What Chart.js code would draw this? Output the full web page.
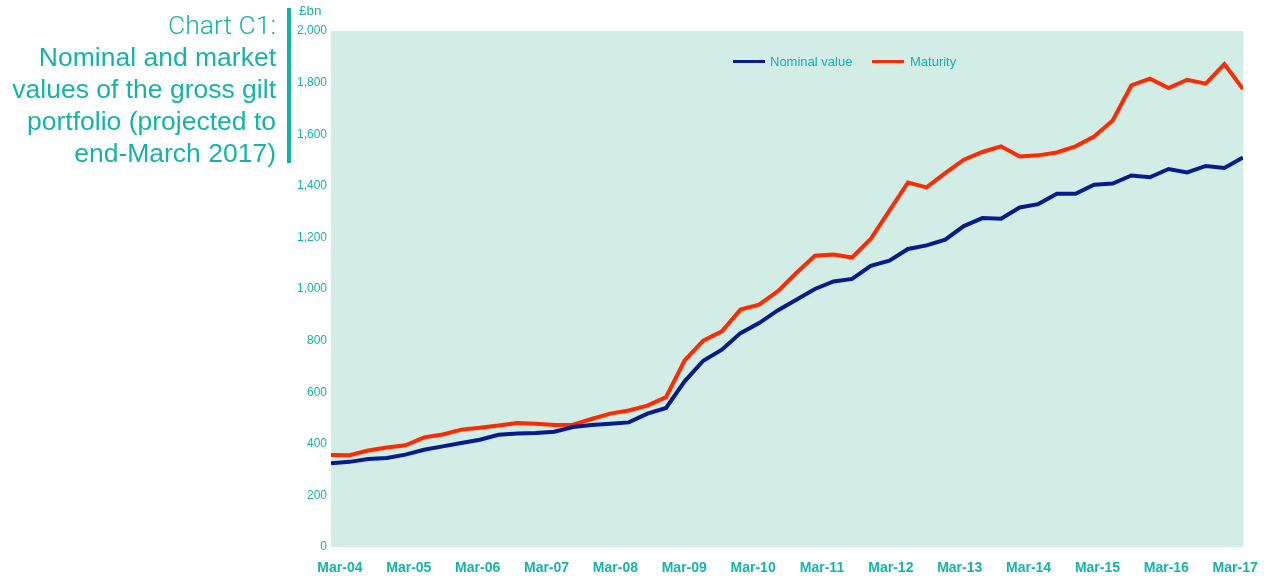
<!DOCTYPE html>
<html>
<head>
<meta charset="utf-8">
<script src="https://cdn.jsdelivr.net/npm/chart.js@4/dist/chart.umd.min.js"></script>
<style>
  body { margin: 0; background: #fff; font-family: "Liberation Sans", Arial, sans-serif; }
  #wrap { position: relative; width: 1264px; height: 578px; }
  #title {
    position: absolute; right: 988px; top: 9px; text-align: right;
    color: #16b3a8; font-size: 26.5px; line-height: 32px; white-space: nowrap;
  }
  #title .first { font-family: Roboto, "Liberation Sans", sans-serif; font-weight: 300; }
  #bar { position: absolute; left: 287px; top: 8px; width: 4px; height: 155px; background: #12b3a6; }
  #unit { position: absolute; left: 299px; top: 3px; color: #16b3a8; font-size: 13.5px; }
  .lg { position: absolute; top: 54px; color: #16b3a8; font-size: 13px; }
  .sw { position: absolute; top: 60px; width: 32px; height: 3px; }
  canvas { position: absolute; left: 0; top: 0; }
</style>
</head>
<body>
<div id="wrap">
  <canvas id="gilts" width="1264" height="578"></canvas>
  <div id="title"><span class="first">Chart C1:</span><br>Nominal and market<br>values of the gross gilt<br>portfolio (projected to<br>end-March 2017)</div>
  <div id="bar"></div>
  <div id="unit">£bn</div>
  <div class="sw" style="left:733px;background:#071a8f"></div>
  <div class="lg" style="left:770px">Nominal value</div>
  <div class="sw" style="left:872px;background:#ff2a00"></div>
  <div class="lg" style="left:910px">Maturity</div>
</div>
<script>
// quarterly points, Mar-04 .. end-March 2017 (projected)
var nominal = [
    325, 330, 341, 345, 358, 377, 390, 403, 416, 435,
    440, 442, 447, 465, 473, 478, 483, 517, 539, 642,
    722, 765, 829, 868, 917, 958, 1000, 1029, 1039, 1090,
    1110, 1155, 1169, 1191, 1244, 1275, 1272, 1316, 1329, 1369,
    1369, 1404, 1409, 1440, 1433, 1465, 1452, 1477, 1469, 1510
];
var maturity = [
    357, 356, 374, 386, 394, 425, 436, 455, 462, 471,
    481, 478, 473, 474, 496, 517, 529, 548, 581, 723,
    800, 836, 920, 939, 991, 1062, 1129, 1134, 1122, 1194,
    1304, 1413, 1394, 1449, 1501, 1531, 1553, 1514, 1518, 1529,
    1553, 1591, 1653, 1789, 1815, 1779, 1811, 1796, 1872, 1775
];
var tickLabels = [
    'Mar-04', 'Mar-05', 'Mar-06', 'Mar-07', 'Mar-08', 'Mar-09', 'Mar-10',
    'Mar-11', 'Mar-12', 'Mar-13', 'Mar-14', 'Mar-15', 'Mar-16', 'Mar-17'
];

var teal = '#16b3a8';

function points(arr) {
    return arr.map(function (v, i) { return { x: i, y: v }; });
}

var plotBg = {
    id: 'plotBg',
    beforeDraw: function (chart) {
        var a = chart.chartArea, ctx = chart.ctx;
        ctx.save();
        ctx.fillStyle = '#d2ece6';
        ctx.fillRect(a.left, a.top, a.right - a.left, a.bottom - a.top);
        ctx.restore();
    }
};

var el = document.getElementById('gilts').getContext('2d');
var giltChart = new Chart(el, {
    type: 'line',
    data: {
        datasets: [{
                label: 'Nominal value',
                data: points(nominal),
                borderColor: '#071a8f',
                borderWidth: 4,
                pointRadius: 0,
                tension: 0
            },
            {
                label: 'Maturity',
                data: points(maturity),
                borderColor: '#ff2a00',
                borderWidth: 4,
                pointRadius: 0,
                tension: 0
            }
        ]
    },
    options: {
        responsive: false,
        animation: false,
        layout: { padding: { top: 31, right: 21, left: 0, bottom: 0 } },
        plugins: {
            legend: { display: false },
            tooltip: { enabled: false }
        },
        scales: {
            x: {
                type: 'linear',
                min: 0,
                max: nominal.length - 1,
                grid: { display: false, drawTicks: false },
                border: { display: false },
                afterBuildTicks: function (scale) {
                    // year labels sit slightly off the quarterly points in the original
                    scale.ticks = tickLabels.map(function (t, k) { return { value: 0.48 + k * 3.7 }; });
                },
                afterFit: function (scale) {
                    scale.height = 31;
                    scale.paddingLeft = 0;
                    scale.paddingRight = 0;
                },
                ticks: {
                    autoSkip: false,
                    maxRotation: 0,
                    padding: 13,
                    color: teal,
                    font: { family: 'Liberation Sans', size: 14, weight: 'bold' },
                    callback: function (v, i) { return tickLabels[i]; }
                }
            },
            y: {
                min: 0,
                max: 2000,
                grid: { display: false, drawTicks: false },
                border: { display: false },
                afterFit: function (scale) { scale.width = 331; },
                ticks: {
                    stepSize: 200,
                    padding: 4,
                    color: teal,
                    font: { family: 'Liberation Sans', size: 12 },
                    callback: function (v) { return v.toLocaleString('en-GB'); }
                }
            }
        }
    },
    plugins: [plotBg]
});
</script>
</body>
</html>
